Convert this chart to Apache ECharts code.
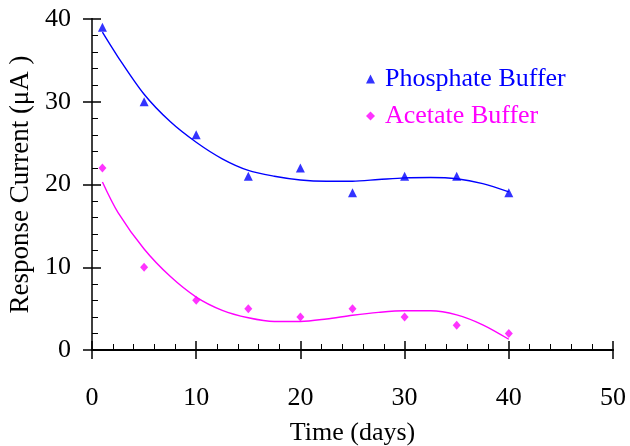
<!DOCTYPE html>
<html>
<head>
<meta charset="utf-8">
<script src="https://cdn.jsdelivr.net/npm/echarts@6/dist/echarts.min.js"></script>
<style>
  html, body { margin: 0; padding: 0; background: #fff; }
  #chart { width: 630px; height: 446px; }
</style>
</head>
<body>
<div id="chart"></div>
<script>
// measured points
const days = [1, 5, 10, 15, 20, 25, 30, 35, 40];
const phosphate = [39, 30, 26, 21, 22, 19, 21, 21, 19];
const acetate = [22, 10, 6, 5, 4, 5, 4, 3, 2];

// trend curves
const fitDays = [1, 2.5, 5, 7.5, 10, 12.5, 15, 17.5, 20, 22.5, 25, 27.5, 30, 32.5, 35, 37.5, 40];
const phosphateFit = [38.4, 35.4, 30.9, 27.6, 25.1, 23.1, 21.7, 21.0, 20.55, 20.4, 20.4, 20.6, 20.8, 20.85, 20.7, 20.1, 19.1];
const acetateFit = [20.3, 16.6, 12.2, 8.9, 6.4, 4.8, 3.9, 3.45, 3.45, 3.75, 4.2, 4.55, 4.75, 4.75, 4.25, 3.05, 1.3];

const xTicks = { min: 0, max: 50, interval: 10 };
const yTicks = { min: 0, max: 40, interval: 10 };

const font = "'Liberation Serif', 'Times New Roman', serif";
const blue = "#0000ff";
const pink = "#ff00ff";

const pairs = (xs, ys) => xs.map((x, i) => [x, ys[i]]);

const chart = echarts.init(document.getElementById("chart"));
const gridBox = { left: 92, right: 17, top: 19, bottom: 96, outerBoundsMode: "none", containLabel: false };

const option = {
	animation: false,
	grid: [Object.assign({}, gridBox), Object.assign({}, gridBox)],
	legend: {
		orient: "vertical",
		left: 361,
		top: 61,
		itemWidth: 9,
		itemHeight: 9,
		itemGap: 11,
		textStyle: { fontFamily: font, fontSize: 26, lineHeight: 26, padding: [0, 0, 0, 5] },
		data: [
			{ name: "Phosphate Buffer", textStyle: { color: blue } },
			{ name: "Acetate Buffer", textStyle: { color: pink } },
		],
	},
	xAxis: [
		{
			gridIndex: 0,
			type: "value",
			position: "bottom",
			min: xTicks.min,
			max: xTicks.max,
			interval: xTicks.interval,
			name: "Time (days)",
			nameLocation: "middle",
			nameGap: 70,
			nameTextStyle: { fontFamily: font, fontSize: 26, color: "#000" },
			axisLine: { lineStyle: { color: "#000", width: 2 } },
			axisTick: { inside: true, length: 9, lineStyle: { color: "#000", width: 1.5 } },
			minorTick: { show: true, splitNumber: 5, length: 6, lineStyle: { color: "#000", width: 1 } },
			axisLabel: { fontFamily: font, fontSize: 26, color: "#000", margin: 35 },
			splitLine: { show: false },
		},
		{
			gridIndex: 1,
			type: "value",
			position: "bottom",
			min: xTicks.min,
			max: xTicks.max,
			interval: xTicks.interval,
			axisLine: { show: false },
			axisTick: { inside: false, length: 9, lineStyle: { color: "#000", width: 1.5 } },
			axisLabel: { show: false },
			splitLine: { show: false },
		},
		{
			gridIndex: 1,
			type: "value",
			position: "top",
			min: xTicks.min,
			max: xTicks.max,
			axisLine: { lineStyle: { color: "#000", width: 1.5 } },
			axisTick: { show: false },
			axisLabel: { show: false },
			splitLine: { show: false },
		},
	],
	yAxis: [
		{
			gridIndex: 0,
			type: "value",
			position: "left",
			min: yTicks.min,
			max: yTicks.max,
			interval: yTicks.interval,
			name: "Response Current (μA )",
			nameLocation: "middle",
			nameGap: 56,
			nameTextStyle: { fontFamily: font, fontSize: 27, color: "#000" },
			axisLine: { lineStyle: { color: "#000", width: 2 } },
			axisTick: { inside: true, length: 9, lineStyle: { color: "#000", width: 1.5 } },
			minorTick: { show: true, splitNumber: 5, length: 6, lineStyle: { color: "#000", width: 1 } },
			axisLabel: { fontFamily: font, fontSize: 26, color: "#000", margin: 21 },
			splitLine: { show: false },
		},
		{
			gridIndex: 1,
			type: "value",
			position: "left",
			min: yTicks.min,
			max: yTicks.max,
			interval: yTicks.interval,
			axisLine: { show: false },
			axisTick: { inside: false, length: 9, lineStyle: { color: "#000", width: 1.5 } },
			axisLabel: { show: false },
			splitLine: { show: false },
		},
		{
			gridIndex: 1,
			type: "value",
			position: "right",
			min: yTicks.min,
			max: yTicks.max,
			axisLine: { lineStyle: { color: "#555", width: 1.5 } },
			axisTick: { show: false },
			axisLabel: { show: false },
			splitLine: { show: false },
		},
	],
	series: [
		{
			name: "Phosphate trend",
			type: "line",
			data: pairs(fitDays, phosphateFit),
			smooth: 0.3,
			showSymbol: false,
			lineStyle: { color: blue, width: 1.4 },
			z: 2,
		},
		{
			name: "Acetate trend",
			type: "line",
			data: pairs(fitDays, acetateFit),
			smooth: 0.3,
			showSymbol: false,
			lineStyle: { color: pink, width: 1.4 },
			z: 2,
		},
		{
			name: "Phosphate Buffer",
			type: "scatter",
			data: pairs(days, phosphate),
			symbol: "triangle",
			symbolSize: [9, 9],
			itemStyle: { color: blue },
			z: 3,
		},
		{
			name: "Acetate Buffer",
			type: "scatter",
			data: pairs(days, acetate),
			symbol: "diamond",
			symbolSize: [8, 9],
			itemStyle: { color: pink },
			z: 3,
		},
	],
};

chart.setOption(option);
</script>
</body>
</html>
